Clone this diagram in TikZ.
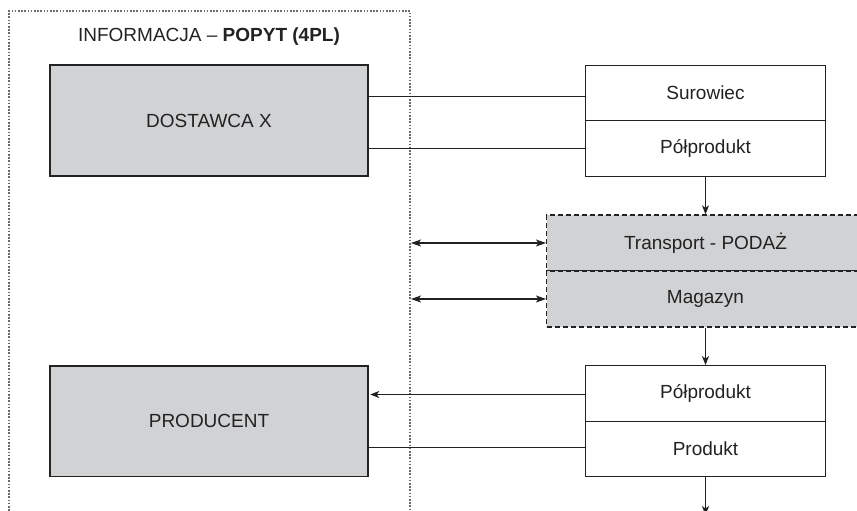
\documentclass[tikz,border=0pt]{standalone}
\usepackage{fontspec}
\setmainfont{Liberation Sans}
\usetikzlibrary{arrows.meta}
\definecolor{boxgray}{HTML}{D1D2D4}
\definecolor{ink}{HTML}{222222}
\definecolor{dotgray}{HTML}{6A6A6A}
\tikzset{
  every node/.style={font=\fontsize{19}{22}\selectfont, text=ink},
  cell/.style={draw=ink, line width=1.4pt, minimum width=240pt, minimum height=55.5pt, inner sep=0pt, fill=white},
  party/.style={draw=ink, line width=1.5pt, fill=boxgray, minimum width=318pt, minimum height=110.5pt, inner sep=0pt},
  flowcell/.style={draw=ink, line width=1.3pt, dash pattern=on 5pt off 3pt, fill=boxgray, minimum width=360pt, minimum height=56pt, inner sep=0pt, anchor=west},
  link/.style={draw=ink, line width=1.4pt},
  arr/.style={link, -{Stealth[length=9pt, width=7pt, inset=2.5pt]}},
  darr/.style={link, {Stealth[length=10pt, width=7pt, inset=2.5pt]}-{Stealth[length=10pt, width=7pt, inset=2.5pt]}},
}
\begin{document}
\begin{tikzpicture}[x=1pt, y=-1pt]
  \useasboundingbox (0,0) rectangle (857,511);
  \clip (0,0) rectangle (857,511);

  % information frame (4PL)
  \draw[dotgray, line width=1.2pt, dash pattern=on 1.6pt off 1.6pt] (9,530) -- (9,11) -- (410,11) -- (410,530);
  \node (title) at (209,37) {INFORMACJA – \textbf{POPYT (4PL)}};

  % parties
  \node[party] (dost) at (209,120.5) {DOSTAWCA X};
  \node[party] (prod) at (209,421) {PRODUCENT};

  % supplier output
  \node[cell] (sur) at (705.5,93) {Surowiec};
  \node[cell] (pp1) at (705.5,148.5) {Półprodukt};

  % transport and storage (the cells run on past the right edge)
  \node[flowcell] (trans) at (546,243) {};
  \node[flowcell] (mag) at (546,299) {};
  \node at (705.5,243) {Transport - PODAŻ};
  \node at (705.5,299) {Magazyn};

  % producer input/output
  \node[cell] (pp2) at (705.5,393.5) {Półprodukt};
  \node[cell] (produkt) at (705.5,449) {Produkt};

  \coordinate (out) at (705.5,515);
  \coordinate (info) at (411,0);

  % connectors
  \draw[link] ([yshift=-3.5pt]sur.west) -- ([yshift=-3.5pt]sur.west -| dost.east);
  \draw[link] (pp1.west) -- (pp1.west -| dost.east);
  \draw[arr] (pp1.south) -- (pp1.south |- trans.north);
  \draw[darr] (trans.west -| info) -- (trans.west);
  \draw[darr] (mag.west -| info) -- (mag.west);
  \draw[arr] (pp2.north |- mag.south) -- (pp2.north);
  \draw[arr] ([yshift=-1pt]pp2.west) -- ([xshift=1.5pt, yshift=-1pt]pp2.west -| prod.east);
  \draw[link] ([yshift=1.5pt]produkt.west) -- ([yshift=1.5pt]produkt.west -| prod.east);
  \draw[arr] (produkt.south) -- (out);
\end{tikzpicture}
\end{document}
